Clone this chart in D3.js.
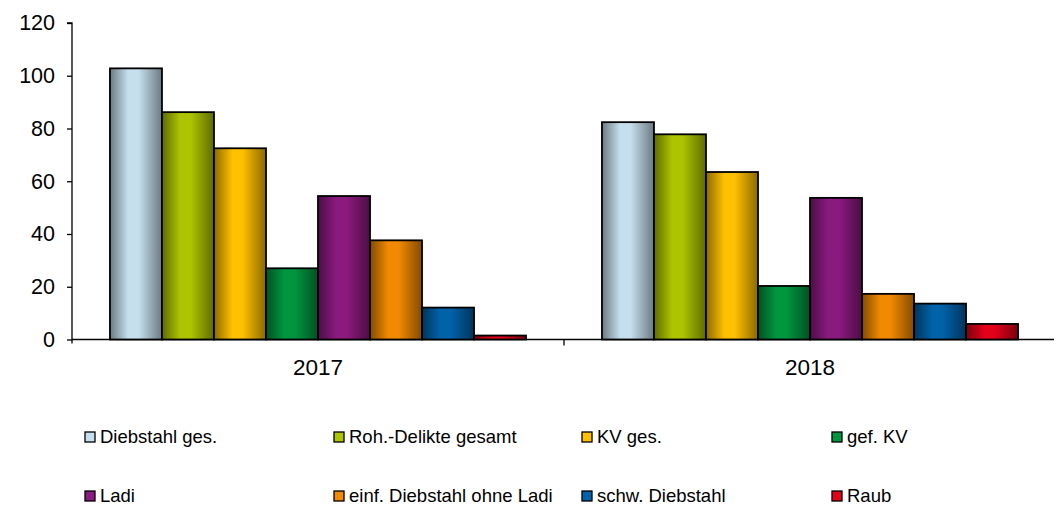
<!DOCTYPE html>
<html>
<head>
<meta charset="utf-8">
<script src="https://cdn.jsdelivr.net/npm/d3@7"></script>
<style>
  body { margin: 0; background: #fff; }
  svg { display: block; font-family: "Liberation Sans", Arial, sans-serif; }
</style>
</head>
<body>
<div id="chart"></div>
<script>
const years = ["2017", "2018"];
const seriesNames = ["Diebstahl ges.", "Roh.-Delikte gesamt", "KV ges.", "gef. KV",
                     "Ladi", "einf. Diebstahl ohne Ladi", "schw. Diebstahl", "Raub"];
const values2017 = [102.8, 86.2, 72.5, 27.0, 54.4, 37.6, 12.1, 1.5];
const values2018 = [82.4, 77.8, 63.5, 20.3, 53.7, 17.3, 13.6, 5.9];
const yTicks = [0, 20, 40, 60, 80, 100, 120];
const colors = ["#c6dfee", "#adc500", "#ffc000", "#00963f", "#8b1a7f", "#f18a00", "#0062a8", "#e2001a"];

const width = 1054, height = 508,
      margin = ({ top: 23, right: 0, bottom: 168, left: 72 });

const data = years.map((yr, i) => ({ year: yr, vals: i === 0 ? values2017 : values2018 }));

let svg = d3.select("#chart")
    .append("svg")
    .attr("width", width)
    .attr("height", height);

// horizontal gradients like the cylinder look of the original
let defs = svg.append("defs");
colors.forEach((c, i) => {
    let dark = d3.color(c).darker(1.7);
    let g = defs.append("linearGradient")
        .attr("id", "grad" + i)
        .attr("x1", "0%").attr("x2", "100%").attr("y1", "0%").attr("y2", "0%");
    g.append("stop").attr("offset", "0%").attr("stop-color", dark);
    g.append("stop").attr("offset", "35%").attr("stop-color", c);
    g.append("stop").attr("offset", "55%").attr("stop-color", c);
    g.append("stop").attr("offset", "100%").attr("stop-color", dark);
});

let x0 = d3.scaleBand()
    .domain(years)
    .range([margin.left, 1056])
    .paddingInner(0)
    .paddingOuter(0);

let x1 = d3.scaleBand()
    .domain(d3.range(seriesNames.length))
    .range([0, x0.bandwidth()])
    .paddingOuter(0.73)
    .paddingInner(0);

let y = d3.scaleLinear()
    .domain([0, 120])
    .range([339.5, margin.top]);

// y axis
let yAxis = svg.append("g")
    .attr("transform", `translate(${margin.left},0)`)
    .call(d3.axisLeft(y).tickValues(yTicks).tickSize(5).tickPadding(12));
yAxis.select(".domain").attr("stroke", "#000").attr("stroke-width", 1.3).attr("d", `M-5,${y(120)}H0V${y(0) + 4}`);
yAxis.selectAll(".tick line").attr("stroke", "#000").attr("stroke-width", 1.3);
yAxis.selectAll(".tick text").attr("font-size", "21.5px").attr("fill", "#000");

// x axis
let xAxis = svg.append("g")
    .attr("transform", `translate(0,${y(0)})`)
    .call(d3.axisBottom(x0).tickSize(0).tickPadding(20));
xAxis.select(".domain").attr("stroke", "#000").attr("stroke-width", 1.3).attr("d", `M${margin.left},0H${width}`);
xAxis.selectAll(".tick text").attr("font-size", "22.5px").attr("fill", "#000");
xAxis.selectAll(".sep")
    .data([x0("2018")])
    .join("line")
    .attr("class", "sep")
    .attr("x1", d => d).attr("x2", d => d)
    .attr("y1", 0).attr("y2", 6)
    .attr("stroke", "#000").attr("stroke-width", 1.3);

let group = svg.selectAll(".grp")
    .data(data)
    .join("g")
    .attr("class", "grp")
    .attr("transform", d => `translate(${x0(d.year)},0)`);

group.selectAll("rect")
    .data(d => d.vals.map((v, i) => ({ v, i })))
    .join("rect")
    .attr("x", d => x1(d.i))
    .attr("width", x1.bandwidth())
    .attr("y", d => y(d.v))
    .attr("height", d => y(0) - y(d.v))
    .attr("fill", d => `url(#grad${d.i})`)
    .attr("stroke", "#000")
    .attr("stroke-width", 1.8);

// legend, 4 columns x 2 rows
const legX = [85, 334, 582, 832], legY = [437, 496];
let leg = svg.selectAll(".leg")
    .data(seriesNames)
    .join("g")
    .attr("class", "leg")
    .attr("transform", (d, i) => `translate(${legX[i % 4]},${legY[Math.floor(i / 4)]})`);

leg.append("rect")
    .attr("x", 0).attr("y", -5)
    .attr("width", 10).attr("height", 10)
    .attr("fill", (d, i) => colors[i])
    .attr("stroke", "#000")
    .attr("stroke-width", 1.3);

leg.append("text")
    .attr("x", 15)
    .attr("y", 0)
    .attr("dy", "0.35em")
    .attr("font-size", "18.5px")
    .text(d => d);
</script>
</body>
</html>
